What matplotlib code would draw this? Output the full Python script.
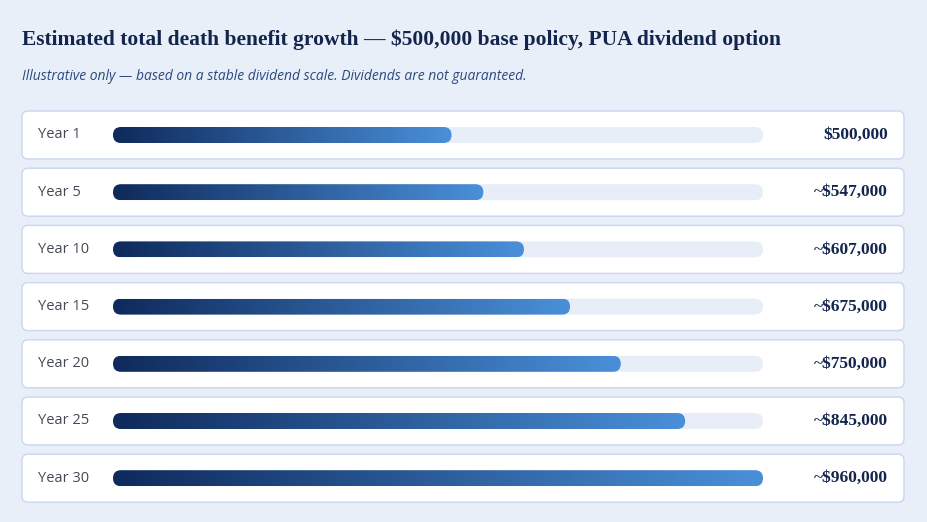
import matplotlib
matplotlib.use("Agg")
import matplotlib.pyplot as plt
import numpy as np
from matplotlib.patches import FancyBboxPatch
from matplotlib.colors import LinearSegmentedColormap

years = ["Year 1", "Year 5", "Year 10", "Year 15", "Year 20", "Year 25", "Year 30"]
values = [500000, 547000, 607000, 675000, 750000, 845000, 960000]
value_labels = ["$500,000", "~$547,000", "~$607,000", "~$675,000", "~$750,000", "~$845,000", "~$960,000"]

W, H = 927, 522
fig = plt.figure(figsize=(W/100, H/100), dpi=100)
fig.patch.set_facecolor("#e9eff9")
ax = fig.add_axes([0, 0, 1, 1])
ax.set_xlim(0, W); ax.set_ylim(H, 0); ax.axis("off")

ax.text(22, 40, "Estimated total death benefit growth — $500,000 base policy, PUA dividend option",
        fontsize=15.5, fontweight="bold", family="Liberation Serif", color="#13254d", va="center")
ax.text(22, 77, "Illustrative only — based on a stable dividend scale. Dividends are not guaranteed.",
        fontsize=10, style="italic", family="Open Sans", color="#2a4a80", va="center")

cmap = LinearSegmentedColormap.from_list("g", ["#0f2a5c", "#4a90d9"])
x0, x1 = 113, 763
vmax = max(values)
for i, (yr, v, lab) in enumerate(zip(years, values, value_labels)):
    top = 111 + i * 57.2
    cy = top + 24
    box = FancyBboxPatch((22, top), 882, 48, boxstyle="round,pad=0,rounding_size=6",
                         fc="white", ec="#c9d6ee", lw=1)
    ax.add_patch(box)
    ax.text(38, cy, yr, fontsize=10.5, family="Open Sans", color="#444a55", va="center")
    track = FancyBboxPatch((x0, cy - 8), x1 - x0, 16, boxstyle="round,pad=0,rounding_size=8",
                           fc="#e8eef8", ec="none")
    ax.add_patch(track)
    xe = x0 + (x1 - x0) * v / vmax
    bar = FancyBboxPatch((x0, cy - 8), xe - x0, 16, boxstyle="round,pad=0,rounding_size=8",
                         fc="none", ec="none")
    ax.add_patch(bar)
    im = ax.imshow(np.linspace(0, 1, 256).reshape(1, -1), cmap=cmap, aspect="auto",
                   extent=(x0, xe, cy + 8, cy - 8), zorder=3)
    im.set_clip_path(bar)
    ax.text(888, cy, lab, fontsize=12.5, fontweight="bold", family="Liberation Serif",
            color="#13254d", va="center", ha="right")

ax.set_xlim(0, W); ax.set_ylim(H, 0)
fig.savefig("out.png", dpi=100, facecolor=fig.get_facecolor())
